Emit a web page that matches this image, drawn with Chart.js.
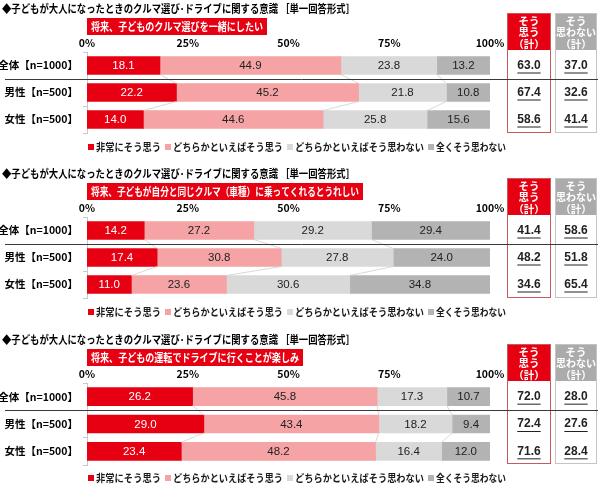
<!DOCTYPE html>
<html lang="ja">
<head>
<meta charset="utf-8">
<script src="https://cdn.jsdelivr.net/npm/chart.js@4.4.0/dist/chart.umd.min.js"></script>
<style>
html, body { margin: 0; padding: 0; background: #fff; }
#wrap { position: relative; width: 600px; height: 497px; }
canvas { position: absolute; left: 0; }
</style>
</head>
<body>
<div id="wrap">
  <canvas id="c1" width="600" height="165" style="top:0px"></canvas>
  <canvas id="c2" width="600" height="165" style="top:165px"></canvas>
  <canvas id="c3" width="600" height="166" style="top:331px"></canvas>
</div>
<script>
const categories = ['全体【n=1000】', '男性【n=500】', '女性【n=500】'];
const seriesNames = ['非常にそう思う', 'どちらかといえばそう思う', 'どちらかといえばそう思わない', '全くそう思わない'];
const tickLabels = ['0%', '25%', '50%', '75%', '100%'];
const panelTitle = '◆子どもが大人になったときのクルマ選び･ドライブに関する意識 ［単一回答形式］';

// 将来、子どものクルマ選びを一緒にしたい
const q1Strong = [18.1, 22.2, 14.0];
const q1Some = [44.9, 45.2, 44.6];
const q1SomeNot = [23.8, 21.8, 25.8];
const q1Not = [13.2, 10.8, 15.6];
const q1Agree = [63.0, 67.4, 58.6];
const q1Disagree = [37.0, 32.6, 41.4];

// 将来、子どもが自分と同じクルマ（車種）に乗ってくれるとうれしい
const q2Strong = [14.2, 17.4, 11.0];
const q2Some = [27.2, 30.8, 23.6];
const q2SomeNot = [29.2, 27.8, 30.6];
const q2Not = [29.4, 24.0, 34.8];
const q2Agree = [41.4, 48.2, 34.6];
const q2Disagree = [58.6, 51.8, 65.4];

// 将来、子どもの運転でドライブに行くことが楽しみ
const q3Strong = [26.2, 29.0, 23.4];
const q3Some = [45.8, 43.4, 48.2];
const q3SomeNot = [17.3, 18.2, 16.4];
const q3Not = [10.7, 9.4, 12.0];
const q3Agree = [72.0, 72.4, 71.6];
const q3Disagree = [28.0, 27.6, 28.4];

const colores = ['#e60012', '#f5a3a5', '#d9d9d9', '#b3b3b3'];
const jp = '"Noto Sans CJK JP", "Noto Sans", sans-serif';
const legendX = [88, 165, 287, 428];

const panelPlugin = {
    id: 'panel',
    afterDatasetsDraw(chart) {
        const ctx = chart.ctx;
        ctx.save();
        // lineas de conexion entre filas
        ctx.strokeStyle = '#cfcfcf';
        ctx.lineWidth = 0.8;
        for (let i = 0; i < 3; i++) {
            const bars = chart.getDatasetMeta(i).data;
            for (let j = 0; j < bars.length - 1; j++) {
                const a = bars[j], b = bars[j + 1];
                ctx.beginPath();
                ctx.moveTo(a.x, a.y + a.height / 2);
                ctx.lineTo(b.x, b.y - b.height / 2);
                ctx.stroke();
            }
        }
        // valores
        ctx.font = '11.5px "Liberation Sans", Arial, sans-serif';
        ctx.textAlign = 'center';
        ctx.textBaseline = 'middle';
        chart.data.datasets.forEach((ds, i) => {
            chart.getDatasetMeta(i).data.forEach((bar, j) => {
                ctx.fillStyle = i === 0 ? '#fff' : '#222';
                ctx.fillText(ds.data[j].toFixed(1), (bar.x + bar.base) / 2, bar.y + 0.5);
            });
        });
        ctx.restore();
    },
    afterDraw(chart, args, opts) {
        const ctx = chart.ctx;
        const y = chart.scales.y;
        ctx.save();
        ctx.textBaseline = 'middle';

        // titulo
        ctx.fillStyle = '#000';
        ctx.textAlign = 'left';
        ctx.font = 'bold 11px ' + jp;
        ctx.fillText(panelTitle, 2, 9, 353);

        // subtitulo en caja roja
        ctx.fillStyle = '#e60012';
        ctx.fillRect(87, 18, opts.subWidth, 17);
        ctx.fillStyle = '#fff';
        ctx.fillText(opts.subtitle, 91, 26.5, opts.subWidth - 8);

        // leyenda
        ctx.font = 'bold 10.5px ' + jp;
        seriesNames.forEach((name, i) => {
            const lx = legendX[i];
            ctx.fillStyle = colores[i];
            ctx.fillRect(lx, 144, 6, 6);
            ctx.fillStyle = '#1a1a1a';
            const next = i < seriesNames.length - 1 ? legendX[i + 1] - 4 : lx + 78;
            ctx.fillText(name, lx + 8, 147.5, next - lx - 8);
        });

        // tabla derecha
        const cols = [
            { x: 507, w: 44, head: ['そう', '思う', '（計）'], fill: '#e60012', line: '#c9595b', vals: opts.agree },
            { x: 555, w: 42, head: ['そう', '思わない', '（計）'], fill: '#ababab', line: '#c4c4c4', vals: opts.disagree }
        ];
        cols.forEach(c => {
            ctx.fillStyle = c.fill;
            ctx.fillRect(c.x, 13, c.w, 37);
            ctx.strokeStyle = c.line;
            ctx.lineWidth = 1;
            ctx.strokeRect(c.x + 0.5, 13.5, c.w - 1, 119);
            ctx.fillStyle = '#fff';
            ctx.textAlign = 'center';
            ctx.font = 'bold 10.5px ' + jp;
            c.head.forEach((t, k) => ctx.fillText(t, c.x + c.w / 2, 21 + k * 11.5, c.w - 2));
            ctx.font = 'bold 12px "Liberation Sans", Arial, sans-serif';
            ctx.fillStyle = '#222';
            ctx.strokeStyle = '#222';
            c.vals.forEach((v, j) => {
                const t = v.toFixed(1);
                const py = y.getPixelForValue(j);
                const cx = c.x + c.w / 2;
                ctx.fillText(t, cx, py);
                const tw = ctx.measureText(t).width;
                ctx.beginPath();
                ctx.moveTo(cx - tw / 2, py + 7.5);
                ctx.lineTo(cx + tw / 2, py + 7.5);
                ctx.stroke();
            });
        });

        // separador bajo 全体
        const sepY = Math.round((y.getPixelForValue(0) + y.getPixelForValue(1)) / 2) + 0.5;
        ctx.strokeStyle = '#3a3a3a';
        ctx.lineWidth = 1;
        ctx.beginPath();
        ctx.moveTo(5, sepY);
        ctx.lineTo(598, sepY);
        ctx.stroke();
        ctx.restore();
    }
};

function crearPanel(id, subtitle, subWidth, series, agree, disagree) {
    new Chart(document.getElementById(id), {
        type: 'bar',
        data: {
            labels: categories,
            datasets: seriesNames.map((name, i) => ({
                label: name,
                data: series[i],
                backgroundColor: colores[i],
                borderWidth: 0,
                barThickness: 18
            }))
        },
        options: {
            indexAxis: 'y',
            responsive: false,
            animation: false,
            layout: { padding: { top: 38, right: 110, bottom: 32, left: 0 } },
            scales: {
                x: {
                    stacked: true,
                    position: 'top',
                    min: 0,
                    max: 100,
                    grid: { display: false, drawTicks: false },
                    border: { display: false },
                    ticks: {
                        stepSize: 25,
                        padding: 3,
                        color: '#000',
                        font: { family: jp, size: 10.5, weight: 'bold' },
                        callback: (v, i) => tickLabels[i]
                    },
                    afterFit: s => { s.height = 14; }
                },
                y: {
                    stacked: true,
                    grid: { display: true, drawOnChartArea: false, tickLength: 4, color: '#c8c8c8' },
                    border: { display: true, color: '#c8c8c8' },
                    ticks: {
                        padding: 5,
                        color: '#000',
                        font: { family: jp, size: 10.5, weight: 'bold' }
                    },
                    afterFit: s => { s.width = 87; }
                }
            },
            plugins: {
                legend: { display: false },
                tooltip: { enabled: false },
                panel: { subtitle: subtitle, subWidth: subWidth, agree: agree, disagree: disagree }
            }
        },
        plugins: [panelPlugin]
    });
}

crearPanel('c1', '将来、子どものクルマ選びを一緒にしたい', 180,
    [q1Strong, q1Some, q1SomeNot, q1Not], q1Agree, q1Disagree);
crearPanel('c2', '将来、子どもが自分と同じクルマ（車種）に乗ってくれるとうれしい', 276,
    [q2Strong, q2Some, q2SomeNot, q2Not], q2Agree, q2Disagree);
crearPanel('c3', '将来、子どもの運転でドライブに行くことが楽しみ', 216,
    [q3Strong, q3Some, q3SomeNot, q3Not], q3Agree, q3Disagree);
</script>
</body>
</html>
